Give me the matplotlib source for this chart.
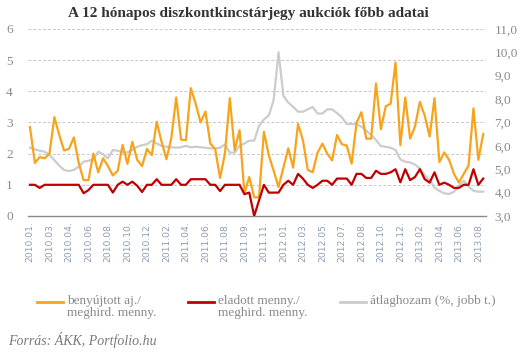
import matplotlib
matplotlib.use("Agg")
import matplotlib.pyplot as plt
from matplotlib.lines import Line2D


# benyújtott aj. / meghird. menny. (bal tengely)
benyujtott = [2.85, 1.70, 1.89, 1.85, 2.00, 3.17, 2.60, 2.10, 2.15, 2.52,
              1.70, 1.15, 1.15, 2.00, 1.40, 1.85, 1.60, 1.30, 1.45, 2.28,
              1.67, 2.38, 1.80, 1.60, 2.15, 1.95, 3.02, 2.38, 1.82, 2.50,
              3.80, 2.45, 2.43, 4.10, 3.60, 3.00, 3.35, 2.32, 2.15, 1.22,
              2.00, 3.78, 2.10, 2.75, 0.73, 1.25, 0.60, 0.60, 2.70,
              1.95, 1.45, 0.93, 1.55, 2.17, 1.55, 2.95, 2.43, 1.48, 1.40,
              2.03, 2.32, 2.00, 1.78, 2.60, 2.30, 2.26, 1.68, 2.98, 3.33,
              2.48, 2.48, 4.25, 2.78, 3.52, 3.60, 4.92, 2.27, 3.80, 2.48,
              2.87, 3.66, 3.22, 2.55, 3.78, 1.73, 2.04, 1.80, 1.35, 1.07,
              1.35, 1.62, 3.45, 1.80, 2.63]

# eladott menny. / meghird. menny. (bal tengely)
eladott = [1.00, 1.00, 0.90, 1.00, 1.00, 1.00, 1.00, 1.00, 1.00, 1.00,
           1.00, 0.73, 0.83, 1.00, 1.00, 1.00, 1.00, 0.75, 1.00, 1.10,
           1.00, 1.10, 0.97, 0.77, 1.00, 1.00, 1.18, 1.00, 1.00, 1.00,
           1.18, 1.00, 1.00, 1.18, 1.18, 1.18, 1.18, 1.00, 1.00, 0.80,
           1.00, 1.00, 1.00, 1.00, 0.70, 0.75, 0.00, 0.50, 1.00,
           0.75, 0.75, 0.75, 1.00, 1.13, 1.00, 1.35, 1.20, 1.00, 0.90,
           1.00, 1.13, 1.13, 1.00, 1.20, 1.20, 1.20, 1.00, 1.35, 1.35,
           1.22, 1.22, 1.45, 1.35, 1.35, 1.40, 1.50, 1.08, 1.50, 1.15,
           1.25, 1.50, 1.18, 1.07, 1.40, 1.00, 1.07, 1.00, 0.90, 0.90,
           1.00, 1.00, 1.50, 1.00, 1.20]

# átlaghozam, % (jobb tengely)
hozam = [5.92, 5.85, 5.79, 5.75, 5.61, 5.39, 5.15, 4.97, 4.92, 4.97,
         5.11, 5.32, 5.36, 5.42, 5.75, 5.64, 5.46, 5.82, 5.79, 5.72,
         5.72, 5.82, 5.96, 6.03, 6.07, 6.22, 6.10, 6.00, 5.96, 5.94,
         5.92, 5.94, 6.00, 5.94, 5.96, 5.94, 5.92, 5.89, 5.89, 5.92,
         6.06, 5.71, 5.71, 6.00, 6.10, 6.22, 6.22, 6.85, 7.13,
         7.30, 7.96, 10.00, 8.13, 7.85, 7.67, 7.46, 7.46, 7.56, 7.66,
         7.38, 7.38, 7.56, 7.56, 7.40, 7.22, 6.93, 6.93, 6.93, 6.82,
         6.65, 6.46, 6.25, 5.99, 5.96, 5.92, 5.82, 5.42, 5.32, 5.29,
         5.20, 5.03, 4.75, 4.53, 4.21, 4.07, 3.97, 3.94, 4.04, 4.28,
         4.51, 4.25, 4.08, 4.04, 4.04]

tick_labels = ["2010.01.", "2010.03.", "2010.04.", "2010.06.", "2010.08.",
               "2010.10.", "2010.12.", "2011.02.", "2011.04.", "2011.06.",
               "2011.08.", "2011.09.", "2011.11.", "2012.01.", "2012.03.",
               "2012.05.", "2012.07.", "2012.08.", "2012.10.", "2012.12.",
               "2013.02.", "2013.04.", "2013.06.", "2013.08."]

ORANGE = "#f7a31c"
RED = "#c00000"
GRAY = "#cccccc"
TXT = "#8a8a8a"

x = list(range(len(benyujtott)))

fig = plt.figure(figsize=(5.29, 3.57), dpi=100)
ax = fig.add_axes([0.053, 0.395, 0.866, 0.524])
ax2 = ax.twinx()

# right axis line drawn first so it sits under the others
ax2.plot(x, hozam, color=GRAY, lw=1.6, solid_joinstyle="round")
ax.plot(x, benyujtott, color=ORANGE, lw=1.6, zorder=3)
ax.plot(x, eladott, color=RED, lw=1.6, zorder=4)
ax.set_zorder(ax2.get_zorder() + 1)
ax.patch.set_visible(False)

ax.set_ylim(0, 6)
ax2.set_ylim(3, 11)
ax.set_xlim(-0.4, 93.6)
ax.set_yticks(range(7))
ax2.set_yticks(range(3, 12))
ax2.set_yticklabels([f"{v},0" for v in range(3, 12)])

ax.set_xticks(x[::4])
ax.set_xticklabels(tick_labels, rotation=90, fontsize=6.6,
                   color="#8e9cb0", family="DejaVu Sans")

ax.yaxis.grid(True, ls=(0, (3, 2)), color="#c8c8c8", lw=0.7)
for a in (ax, ax2):
    for s in a.spines.values():
        s.set_visible(False)
    a.tick_params(length=0)
ax.spines["bottom"].set_visible(True)
ax.spines["bottom"].set_color("#8a8a8a")
ax.spines["bottom"].set_linewidth(1.0)

ax.tick_params(axis="y", pad=11, labelsize=9.5, labelcolor=TXT)
ax2.tick_params(axis="y", pad=6, labelsize=9.5, labelcolor=TXT)
ax.tick_params(axis="x", pad=4)
for lab in ax.get_yticklabels() + ax2.get_yticklabels():
    lab.set_family("Liberation Serif")

fig.text(0.47, 0.962, "A 12 hónapos diszkontkincstárjegy aukciók főbb adatai",
         ha="center", va="center", fontsize=11, fontweight="bold",
         family="Liberation Serif", color="#333333")

# legend
legend_items = [(ORANGE, "benyújtott aj./\nmeghird. menny.", 37),
                (RED, "eladott menny./\nmeghird. menny.", 188),
                (GRAY, "átlaghozam (%, jobb t.)", 340)]
for col, label, px in legend_items:
    y = 1 - 302 / 357
    fig.add_artist(Line2D([px / 529, (px + 26) / 529], [y, y], color=col, lw=2))
    fig.text((px + 30) / 529, 1 - 295 / 357, label, ha="left", va="top",
             fontsize=9.5, family="Liberation Serif", color=TXT,
             linespacing=1.05)

fig.text(8 / 529, 1 - 340 / 357, "Forrás: ÁKK, Portfolio.hu", ha="left",
         va="center", fontsize=10, style="italic", family="Liberation Serif",
         color="#7a7a7a")

fig.savefig("out.png", dpi=100)
